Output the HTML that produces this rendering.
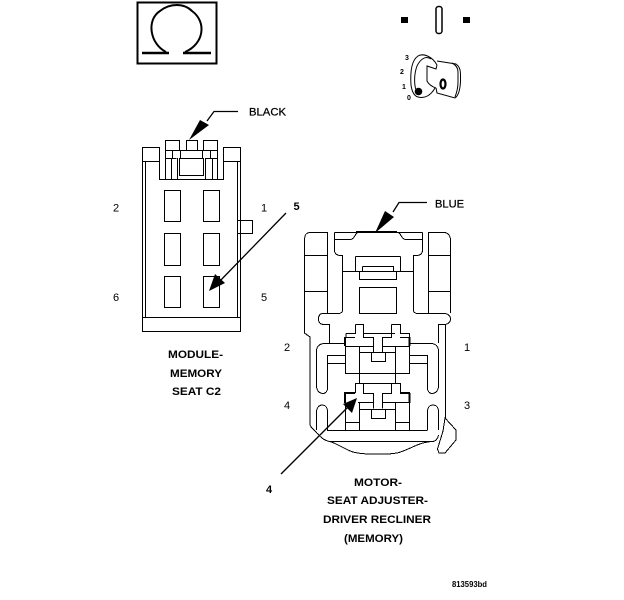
<!DOCTYPE html>
<html><head><meta charset="utf-8"><style>
html,body{margin:0;padding:0;background:#fff}
svg{display:block}
text{font-family:"Liberation Sans",sans-serif;fill:#000}
.b{font-weight:bold;font-size:11px}
.n{font-size:11px}
</style></head><body>
<svg width="624" height="600" viewBox="0 0 624 600" xmlns="http://www.w3.org/2000/svg">
<!-- omega -->
<g fill="none" stroke="#000">
<rect x="137.500" y="2.500" width="79" height="61" stroke-width="2"/>
<path d="M166 52 C150 44 146 20 160 11 C170 3 184 3 192 11 C207 22 204 44 185 52" stroke-width="2"/>
<path d="M142 53H169M183 53H211" stroke-width="2.400"/>
</g>
<!-- bars -->
<rect x="401" y="17" width="7" height="6"/>
<rect x="463" y="17" width="7" height="6"/>
<rect x="436" y="6.500" width="6" height="27" rx="2.500" fill="none" stroke="#000" stroke-width="1.500"/>
<!-- key -->
<g fill="none" stroke="#000" stroke-width="1">
<path d="M437 65 C432 56 423 53 418 56 C412 60 410 70 411 85 C412 92 414 96 418 97 C425 99 431 95 435 88"/>
<path d="M431 59 C425 55 420 60 417 66 C414 74 414 84 416 90"/>
<path d="M437 65 L436 69 L427 66 V81 C429 85 433 87 436 88"/>
<path d="M437 61 L456 64 C459 66 460.500 70 460.500 74 V82 C460 90 458 96 455 98 L437 93 L436 88"/>
<path d="M452 63 C456 65 458 68 458 72 V82 C458 88 457 92 455 97"/>
<ellipse cx="443" cy="84" rx="2.500" ry="4.500" stroke-width="2.200"/>
</g>
<circle cx="418.500" cy="91.500" r="3.800"/>
<text x="405" y="60" font-size="7" font-weight="bold">3</text>
<text x="400" y="74" font-size="7" font-weight="bold">2</text>
<text x="402" y="89" font-size="7" font-weight="bold">1</text>
<text x="407" y="100" font-size="7" font-weight="bold">0</text>

<!-- left connector -->
<g fill="none" stroke="#000" stroke-width="1" shape-rendering="crispEdges">
<path d="M142.500 317V147.500H159.500V179.500H223.500V147.500H240.500V317"/>
<path d="M142.500 161.500H159.500M223.500 161.500H240.500"/>
<path d="M145.500 161V317M237.500 161V317"/>
<path d="M142.500 317.500H240.500V331.500H142.500Z"/>
<rect x="165.500" y="140.500" width="14" height="10"/>
<rect x="186.500" y="140.500" width="11" height="10"/>
<rect x="203.500" y="140.500" width="14" height="10"/>
<path d="M165.500 150V179M217.500 150V179M171.500 158V179M212.500 158V179M177.500 158V179M179.500 158V176M205.500 158V179M203.500 158V176"/>
<path d="M165.500 150.500H217.500M165.500 158.500H176.500M180 158.500H203M206 158.500H217.500M180 175.500H203"/>
<path d="M180.500 150V158M202.500 150V158M210.500 150V158M172.500 150V158"/>
<rect x="164.500" y="190.500" width="16" height="31"/>
<rect x="203.500" y="190.500" width="16" height="31"/>
<rect x="164.500" y="233.500" width="16" height="32"/>
<rect x="203.500" y="233.500" width="16" height="32"/>
<rect x="164.500" y="276.500" width="16" height="31"/>
<rect x="203.500" y="276.500" width="16" height="31"/>
<path d="M237 220.500H252.500V233.500H237"/>
</g>
<!-- right connector -->
<g fill="none" stroke="#000" stroke-width="1" shape-rendering="crispEdges">
<!-- outer blocks -->
<path d="M327.500 313V232.500H310C306 232.500 304.500 236 304.500 240V333L310 337V424C310 427 313 429 317 433"/>
<path d="M428.500 313V232.500H444C448 232.500 450.500 236 450.500 240V313"/>
<path d="M445.500 325V418"/>
<path d="M305 255.500H327M305 291.500H327M429 255.500H450M429 291.500H450"/>
<!-- top body -->
<path d="M334.500 232.500H358M397 232.500H422.500"/>
<path d="M356 232H397" stroke-width="2"/>
<path d="M334.500 232.500V250C334.500 254 337 255.500 341 255.500H342.500V310C342.500 312.500 341 313.500 338 313.500H323C319.500 313.500 318.500 316 318.500 319C318.500 322 320 324.500 324 324.500H329.500V343"/>
<path d="M422.500 232.500V250C422.500 254 420 255.500 416 255.500H413.500V310C413.500 312.500 415 313.500 418 313.500H444C448 313.500 450.500 316 450.500 319C450.500 322 448 324.500 444 324.500H438.500V343"/>
<path d="M334.500 239.500H350C355 239.500 355 232.500 358 232.500M422.500 239.500H406C401 239.500 401 232.500 398 232.500"/>
<path d="M355.500 256.500H400.500M355.500 256.500V271M400.500 256.500V271M343 271.500H359M396 271.500H413"/>
<path d="M362.500 266.500H393.500V271M362.500 266.500V271"/>
<rect x="359.500" y="271.500" width="37" height="8"/>
<rect x="359.500" y="287.500" width="37" height="26"/>
<!-- upper module -->
<path d="M355.500 324.500H363.500V333.500H395"/>
<path d="M355.500 324.500V333.500H346M346 333.500V337.500H355"/>
<path d="M391.500 324.500H400.500V333.500H409.500V337.500H400M391.500 324.500V333.500"/>
<path d="M363.500 333.500V337.500H373.500V352.500M391.500 333.500V337.500H382.500V352.500"/>
<rect x="371.500" y="352.500" width="14" height="9"/>
<path d="M346 346.500H373M383 346.500H409"/>
<path d="M345.500 337V373M359.500 346V383M395.500 346V383M409.500 337V373M345 373.500H410"/>
<path d="M359.500 352.500H371M386 352.500H395"/>
<!-- upper arms -->
<path d="M345 343.500H325C319 343.500 316.500 347 316.500 351V386C316.500 391 320 393.500 323 393.500C326 393.500 327.500 391 327.500 388V355.500H345"/>
<path d="M409 343.500H431C436 343.500 438.500 347 438.500 351V386C438.500 391 435 393.500 432 393.500C429 393.500 427.500 391 427.500 388V355.500H409"/>
<path d="M327.500 363.500H345M409 363.500H427"/>
<!-- lower module -->
<path d="M355 383.500H400"/>
<path d="M355.500 383V392.500H346M363.500 383V393.500H373.500V408.500M391.500 383V393.500H382.500V408.500M400.500 383V392.500H409.500"/>
<path d="M346 393.500H355M400 393.500H409"/>
<rect x="371.500" y="409.500" width="14" height="9"/>
<path d="M358 402.500H373M383 402.500H409M359.500 409.500H371M386 409.500H395"/>
<path d="M345.500 392V431M359.500 402V431M395.500 402V431M409.500 392V431M345 422.500H359M395 422.500H409"/>
<!-- lower arms -->
<path d="M316.500 430V412C316.500 407 320 405 322 405C325 405 327.500 407 327.500 412V430.500"/>
<path d="M427.500 430.500V412C427.500 407 430 405 433 405C436 405 438.500 407 438.500 412V430"/>
<path d="M327 430.500H427"/>
<!-- bottom -->
<path d="M317 433C320 437 325 441 330 441.500H433C436 441 438 438 438.500 435"/>
<path d="M330 441.500C338 444 346 450 353 452C362 454.500 385 455 397 453C406 451 415 445 423 443C427 442 431 441.500 433 441.500"/>
<path d="M445 418L456 430V440L445 453H439L437.500 449L443 431Z"/>
</g>
<path d="M345 337V346M409.500 337V346M345 392V403M409.500 393V403" stroke="#000" stroke-width="2.400" shape-rendering="crispEdges"/>
<!-- arrows -->
<g stroke="#000" fill="none" stroke-width="1.300">
<path d="M238 111.500H214L207 121"/>
<path d="M427 202.500H399L393 212"/>
<path d="M286 213L218 283"/>
<path d="M281 474L350 405"/>
</g>
<path d="M189 140L200 120L209 125Z"/>
<path d="M375 233L385 211L394 217Z"/>
<path d="M209 291L215 274L225 283Z"/>
<path d="M357 398L343 404L352 413Z"/>
<!-- labels -->
<text class="n" x="249" y="115.500" textLength="37" lengthAdjust="spacingAndGlyphs" stroke="#000" stroke-width=".25">BLACK</text>
<text class="n" x="435" y="207.500" textLength="29" lengthAdjust="spacingAndGlyphs" stroke="#000" stroke-width=".25">BLUE</text>
<text class="n" x="113" y="211.500">2</text>
<text class="n" x="261" y="211.500">1</text>
<text class="b" x="293.500" y="210">5</text>
<text class="n" x="113" y="301">6</text>
<text class="n" x="261" y="301">5</text>
<text class="n" x="284" y="351">2</text>
<text class="n" x="464" y="351">1</text>
<text class="n" x="284" y="409">4</text>
<text class="n" x="464" y="409">3</text>
<text class="b" x="266" y="493">4</text>
<text class="b" x="168" y="358" textLength="55" lengthAdjust="spacingAndGlyphs">MODULE-</text>
<text class="b" x="170" y="377" textLength="52" lengthAdjust="spacingAndGlyphs">MEMORY</text>
<text class="b" x="172" y="395" textLength="49" lengthAdjust="spacingAndGlyphs">SEAT C2</text>
<text class="b" x="354" y="486" textLength="48" lengthAdjust="spacingAndGlyphs">MOTOR-</text>
<text class="b" x="327" y="504" textLength="101" lengthAdjust="spacingAndGlyphs">SEAT ADJUSTER-</text>
<text class="b" x="323" y="523" textLength="108" lengthAdjust="spacingAndGlyphs">DRIVER RECLINER</text>
<text class="b" x="344" y="542" textLength="59" lengthAdjust="spacingAndGlyphs">(MEMORY)</text>
<text x="452" y="587" font-size="8" font-weight="bold" textLength="35" lengthAdjust="spacingAndGlyphs">813593bd</text>
</svg>
</body></html>
